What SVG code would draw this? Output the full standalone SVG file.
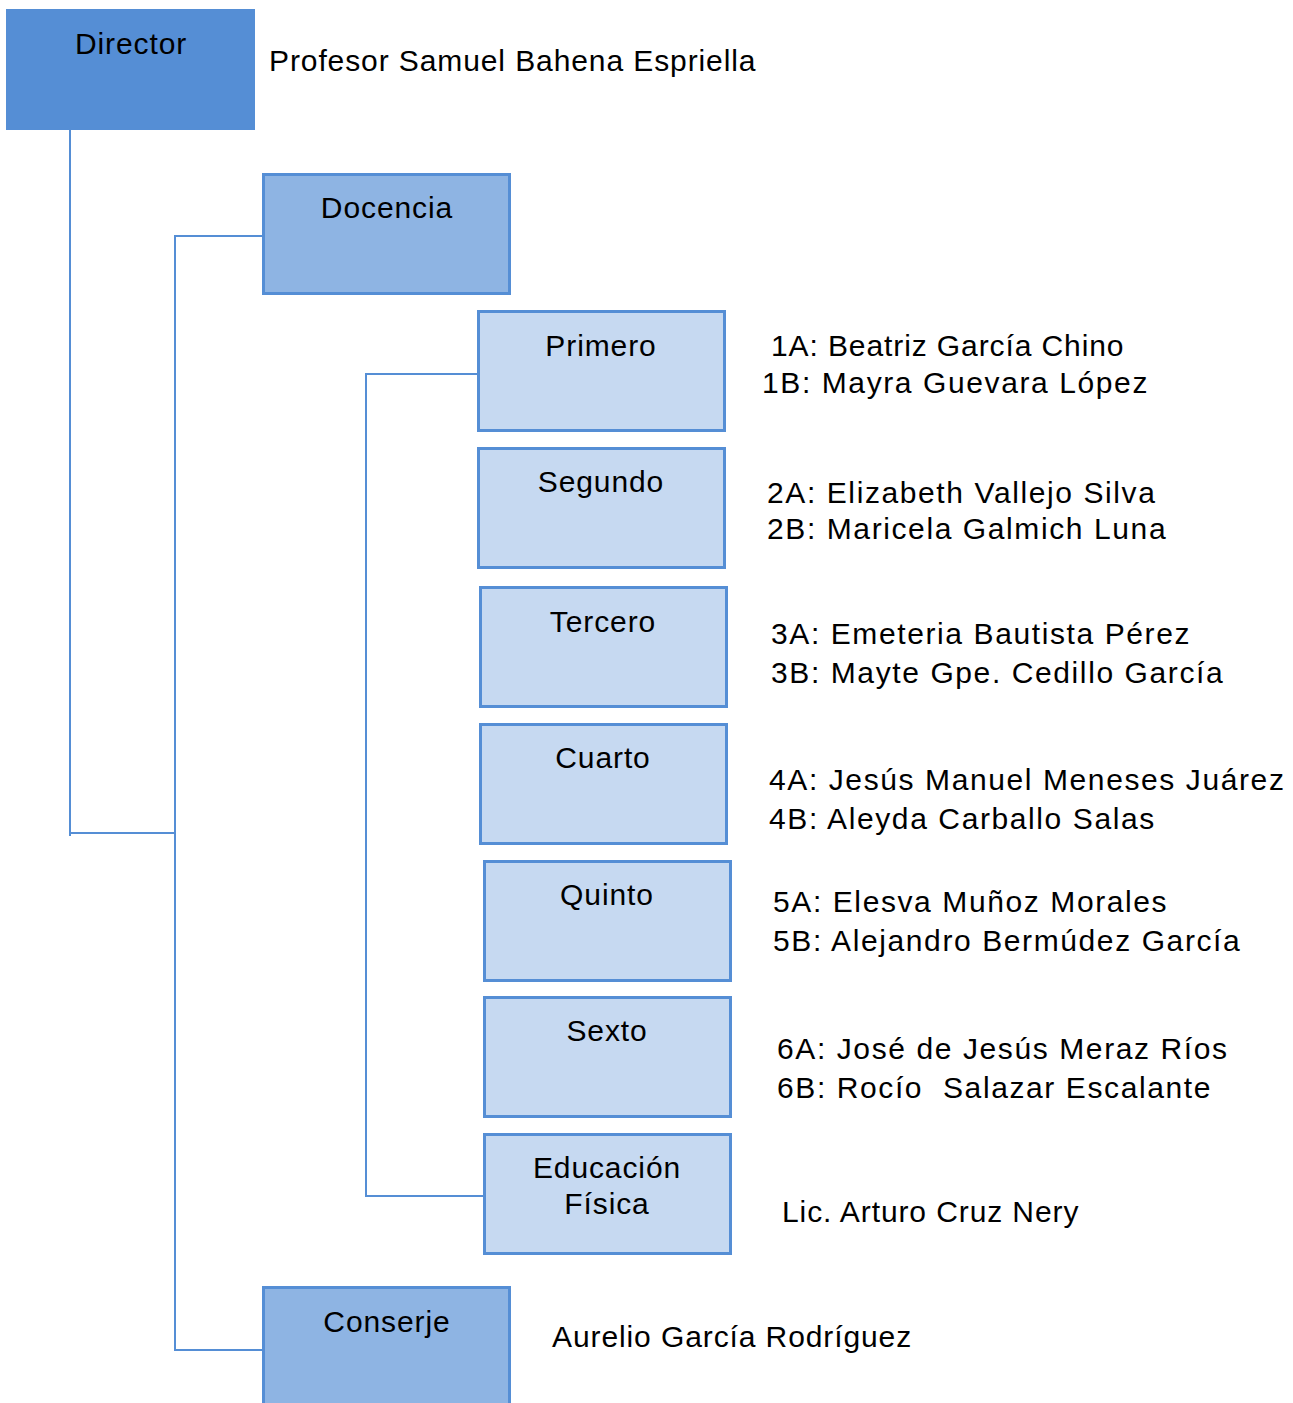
<svg xmlns="http://www.w3.org/2000/svg" width="1293" height="1403" viewBox="0 0 1293 1403">
<style>
text{font-family:"Liberation Sans",Arial,sans-serif;font-size:30px;letter-spacing:0.9px;fill:#000;white-space:pre}
.c{text-anchor:middle}
.n{letter-spacing:1.6px}
.l2{fill:#8eb4e3;stroke:#558ed5;stroke-width:3}
.l3{fill:#c6d9f1;stroke:#558ed5;stroke-width:3}
.conn{fill:none;stroke:#558ed5;stroke-width:2}
</style>
<rect width="1293" height="1403" fill="#fff"/>
<g id="connectors">
<polyline class="conn" points="70,130 70,836"/>
<polyline class="conn" points="70,833 175,833"/>
<polyline class="conn" points="268,236 175,236 175,1350 263,1350"/>
<polyline class="conn" points="483,374 366,374 366,1196 489,1196"/>
</g>
<g id="director">
<rect x="6" y="9" width="249" height="121" fill="#558ed5"/>
<text class="c" x="131" y="54">Director</text>
<text x="269" y="71">Profesor Samuel Bahena Espriella</text>
</g>
<g id="docencia">
<rect class="l2" x="263.5" y="174.5" width="246" height="119"/>
<text class="c" x="387" y="218">Docencia</text>
</g>
<g id="primero">
<rect class="l3" x="478.5" y="311.5" width="246" height="119"/>
<text class="c" x="601" y="356">Primero</text>
<text x="771" y="356">1A: Beatriz García Chino</text>
<text class="n" x="762" y="393">1B: Mayra Guevara López</text>
</g>
<g id="segundo">
<rect class="l3" x="478.5" y="448.5" width="246" height="119"/>
<text class="c" x="601" y="492">Segundo</text>
<text class="n" x="767" y="503">2A: Elizabeth Vallejo Silva</text>
<text class="n" x="767" y="539">2B: Maricela Galmich Luna</text>
</g>
<g id="tercero">
<rect class="l3" x="480.5" y="587.5" width="246" height="119"/>
<text class="c" x="603" y="632">Tercero</text>
<text class="n" x="771" y="644">3A: Emeteria Bautista Pérez</text>
<text class="n" x="771" y="683">3B: Mayte Gpe. Cedillo García</text>
</g>
<g id="cuarto">
<rect class="l3" x="480.5" y="724.5" width="246" height="119"/>
<text class="c" x="603" y="768">Cuarto</text>
<text class="n" x="769" y="790">4A: Jesús Manuel Meneses Juárez</text>
<text class="n" x="769" y="829">4B: Aleyda Carballo Salas</text>
</g>
<g id="quinto">
<rect class="l3" x="484.5" y="861.5" width="246" height="119"/>
<text class="c" x="607" y="905">Quinto</text>
<text class="n" x="773" y="912">5A: Elesva Muñoz Morales</text>
<text class="n" x="773" y="951">5B: Alejandro Bermúdez García</text>
</g>
<g id="sexto">
<rect class="l3" x="484.5" y="997.5" width="246" height="119"/>
<text class="c" x="607" y="1041">Sexto</text>
<text class="n" x="777" y="1059">6A: José de Jesús Meraz Ríos</text>
<text class="n" x="777" y="1098">6B: Rocío  Salazar Escalante</text>
</g>
<g id="educacion-fisica">
<rect class="l3" x="484.5" y="1134.5" width="246" height="119"/>
<text class="c" x="607" y="1178">Educación</text>
<text class="c" x="607" y="1214">Física</text>
<text x="782" y="1222">Lic. Arturo Cruz Nery</text>
</g>
<g id="conserje">
<rect class="l2" x="263.5" y="1287.5" width="246" height="120"/>
<text class="c" x="387" y="1332">Conserje</text>
<text x="552" y="1347">Aurelio García Rodríguez</text>
</g>
</svg>
